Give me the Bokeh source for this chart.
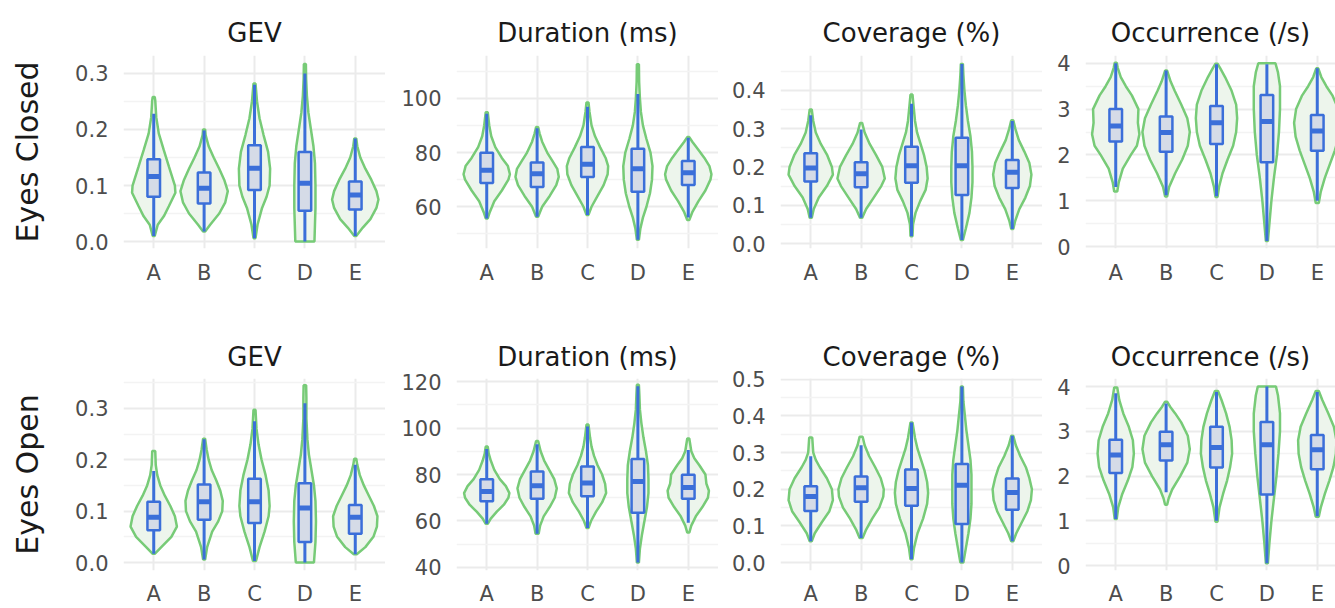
from bokeh.plotting import figure
from bokeh.layouts import column, row
from bokeh.models import Range1d, FixedTicker, PrintfTickFormatter
from bokeh.embed import file_html
from bokeh.resources import INLINE

categories = ["A", "B", "C", "D", "E"]
metrics = ["GEV", "Duration (ms)", "Coverage (%)", "Occurrence (/s)"]
conditions = ["Eyes Closed", "Eyes Open"]

# ---------------- box statistics (whisker lo, q1, median, q3, whisker hi) per category A..E
ec_gev_box = dict(lo=[0.010, 0.018, 0.006, 0.000, 0.010],
                  q1=[0.080, 0.068, 0.092, 0.055, 0.057],
                  med=[0.116, 0.095, 0.131, 0.104, 0.083],
                  q3=[0.147, 0.123, 0.172, 0.160, 0.107],
                  hi=[0.228, 0.198, 0.280, 0.300, 0.184])
ec_dur_box = dict(lo=[55.7, 56.3, 57.0, 47.8, 56.0],
                  q1=[68.8, 67.3, 71.0, 65.5, 68.0],
                  med=[73.5, 72.2, 75.7, 74.0, 72.5],
                  q3=[79.9, 76.3, 82.0, 81.4, 76.9],
                  hi=[94.3, 89.0, 96.9, 101.6, 85.5])
ec_cov_box = dict(lo=[0.067, 0.067, 0.019, 0.009, 0.038],
                  q1=[0.162, 0.147, 0.159, 0.127, 0.145],
                  med=[0.197, 0.182, 0.203, 0.203, 0.186],
                  q3=[0.236, 0.212, 0.253, 0.276, 0.218],
                  hi=[0.335, 0.298, 0.365, 0.469, 0.320])
ec_occ_box = dict(lo=[1.30, 1.12, 1.10, 0.12, 1.00],
                  q1=[2.29, 2.07, 2.24, 1.84, 2.09],
                  med=[2.63, 2.49, 2.70, 2.73, 2.52],
                  q3=[3.00, 2.84, 3.07, 3.31, 2.87],
                  hi=[4.00, 3.84, 3.98, 3.98, 3.89])
eo_gev_box = dict(lo=[0.017, 0.006, 0.003, 0.000, 0.016],
                  q1=[0.063, 0.083, 0.077, 0.040, 0.056],
                  med=[0.088, 0.118, 0.118, 0.106, 0.088],
                  q3=[0.118, 0.152, 0.163, 0.154, 0.112],
                  hi=[0.178, 0.240, 0.275, 0.310, 0.190])
eo_dur_box = dict(lo=[58.8, 54.5, 57.0, 42.1, 59.2],
                  q1=[68.5, 69.6, 70.6, 63.5, 69.6],
                  med=[72.7, 75.2, 76.3, 77.0, 74.4],
                  q3=[78.0, 81.3, 83.4, 86.7, 79.9],
                  hi=[91.0, 93.0, 100.6, 118.0, 90.5])
eo_cov_box = dict(lo=[0.058, 0.067, 0.009, 0.000, 0.058],
                  q1=[0.141, 0.166, 0.155, 0.105, 0.144],
                  med=[0.180, 0.204, 0.202, 0.211, 0.191],
                  q3=[0.208, 0.235, 0.254, 0.269, 0.229],
                  hi=[0.290, 0.320, 0.382, 0.480, 0.346])
eo_occ_box = dict(lo=[1.04, 1.64, 1.00, 0.05, 1.10],
                  q1=[2.07, 2.35, 2.19, 1.59, 2.15],
                  med=[2.47, 2.70, 2.64, 2.70, 2.59],
                  q3=[2.81, 2.99, 3.10, 3.21, 2.92],
                  hi=[3.85, 3.62, 3.88, 4.00, 3.88])

# ---------------- violin outlines: (value, half-width in category units), bottom to top
ec_gev_violin = [
    [(0.010, 0.02), (0.030, 0.08), (0.045, 0.20), (0.063, 0.30), (0.087, 0.43), (0.100, 0.42), (0.134, 0.30), (0.163, 0.20), (0.193, 0.10), (0.222, 0.05), (0.252, 0.03), (0.258, 0.02)],
    [(0.018, 0.02), (0.030, 0.12), (0.050, 0.30), (0.070, 0.42), (0.090, 0.47), (0.110, 0.40), (0.130, 0.30), (0.150, 0.19), (0.170, 0.09), (0.190, 0.03), (0.200, 0.02)],
    [(0.006, 0.02), (0.030, 0.06), (0.060, 0.15), (0.080, 0.24), (0.100, 0.30), (0.130, 0.31), (0.160, 0.27), (0.190, 0.18), (0.220, 0.10), (0.250, 0.05), (0.282, 0.02)],
    [(0.000, 0.19), (0.030, 0.20), (0.060, 0.21), (0.100, 0.21), (0.140, 0.20), (0.170, 0.17), (0.200, 0.12), (0.230, 0.07), (0.260, 0.04), (0.290, 0.025), (0.317, 0.02)],
    [(0.010, 0.02), (0.025, 0.15), (0.040, 0.30), (0.060, 0.42), (0.075, 0.46), (0.090, 0.42), (0.110, 0.32), (0.130, 0.20), (0.150, 0.10), (0.170, 0.04), (0.184, 0.02)],
]
ec_dur_violin = [
    [(55.7, 0.02), (58, 0.06), (62, 0.15), (66, 0.30), (70, 0.43), (72, 0.46), (75, 0.42), (78, 0.30), (82, 0.17), (86, 0.09), (90, 0.05), (94.9, 0.02)],
    [(56.3, 0.02), (60, 0.10), (64, 0.25), (68, 0.38), (71, 0.43), (74, 0.40), (77, 0.30), (80, 0.20), (84, 0.10), (87, 0.05), (89.4, 0.02)],
    [(57, 0.02), (60, 0.08), (64, 0.20), (68, 0.32), (72, 0.40), (75, 0.41), (78, 0.36), (82, 0.25), (86, 0.15), (90, 0.08), (95, 0.04), (98.5, 0.02)],
    [(47.8, 0.02), (52, 0.05), (56, 0.10), (60, 0.17), (65, 0.24), (70, 0.28), (75, 0.29), (80, 0.25), (85, 0.17), (90, 0.10), (95, 0.06), (100, 0.04), (106, 0.025), (112.6, 0.02)],
    [(55.1, 0.02), (58, 0.08), (62, 0.20), (66, 0.34), (70, 0.44), (72, 0.46), (75, 0.42), (78, 0.32), (81, 0.20), (84, 0.08), (85.7, 0.02)],
]
ec_cov_violin = [
    [(0.067, 0.02), (0.09, 0.06), (0.12, 0.16), (0.15, 0.32), (0.18, 0.44), (0.20, 0.42), (0.23, 0.33), (0.26, 0.20), (0.29, 0.10), (0.32, 0.05), (0.35, 0.02)],
    [(0.067, 0.02), (0.09, 0.10), (0.12, 0.25), (0.15, 0.40), (0.17, 0.47), (0.20, 0.42), (0.23, 0.30), (0.26, 0.17), (0.29, 0.07), (0.315, 0.02)],
    [(0.019, 0.02), (0.05, 0.03), (0.08, 0.08), (0.11, 0.17), (0.14, 0.28), (0.17, 0.32), (0.20, 0.30), (0.23, 0.25), (0.26, 0.18), (0.29, 0.11), (0.32, 0.07), (0.36, 0.04), (0.389, 0.02)],
    [(0.009, 0.02), (0.04, 0.08), (0.08, 0.15), (0.12, 0.19), (0.16, 0.21), (0.20, 0.21), (0.24, 0.20), (0.28, 0.17), (0.32, 0.12), (0.36, 0.08), (0.40, 0.05), (0.44, 0.03), (0.469, 0.02)],
    [(0.038, 0.02), (0.06, 0.06), (0.09, 0.14), (0.12, 0.26), (0.15, 0.35), (0.18, 0.38), (0.21, 0.34), (0.24, 0.24), (0.27, 0.13), (0.30, 0.06), (0.322, 0.02)],
]
ec_occ_violin = [
    [(1.20, 0.03), (1.4, 0.06), (1.7, 0.14), (2.0, 0.30), (2.2, 0.42), (2.45, 0.47), (2.7, 0.44), (3.0, 0.45), (3.3, 0.32), (3.5, 0.20), (3.7, 0.10), (3.9, 0.04), (4.01, 0.02)],
    [(1.09, 0.02), (1.3, 0.06), (1.6, 0.18), (1.9, 0.32), (2.2, 0.43), (2.5, 0.47), (2.8, 0.42), (3.1, 0.30), (3.4, 0.17), (3.6, 0.09), (3.84, 0.02)],
    [(1.08, 0.02), (1.3, 0.05), (1.6, 0.12), (1.9, 0.22), (2.2, 0.33), (2.5, 0.39), (2.8, 0.41), (3.1, 0.39), (3.4, 0.30), (3.7, 0.17), (3.9, 0.07), (3.99, 0.02)],
    [(0.12, 0.02), (0.5, 0.05), (1.0, 0.09), (1.5, 0.14), (2.0, 0.20), (2.5, 0.24), (3.0, 0.26), (3.5, 0.26), (3.8, 0.22), (4.0, 0.17)],
    [(0.95, 0.03), (1.2, 0.07), (1.5, 0.15), (1.8, 0.25), (2.1, 0.35), (2.4, 0.43), (2.7, 0.46), (3.0, 0.42), (3.3, 0.30), (3.5, 0.18), (3.7, 0.08), (3.89, 0.02)],
]
eo_gev_violin = [
    [(0.017, 0.02), (0.03, 0.15), (0.05, 0.35), (0.07, 0.46), (0.09, 0.42), (0.11, 0.33), (0.13, 0.22), (0.15, 0.13), (0.17, 0.07), (0.19, 0.04), (0.217, 0.03)],
    [(0.006, 0.02), (0.03, 0.06), (0.06, 0.16), (0.08, 0.28), (0.10, 0.36), (0.12, 0.37), (0.14, 0.32), (0.16, 0.24), (0.18, 0.15), (0.20, 0.09), (0.22, 0.05), (0.241, 0.02)],
    [(0.003, 0.03), (0.03, 0.10), (0.06, 0.20), (0.09, 0.28), (0.11, 0.30), (0.14, 0.28), (0.17, 0.22), (0.20, 0.14), (0.23, 0.08), (0.26, 0.04), (0.297, 0.02)],
    [(0.000, 0.18), (0.04, 0.21), (0.08, 0.22), (0.12, 0.21), (0.15, 0.18), (0.18, 0.13), (0.21, 0.08), (0.24, 0.05), (0.28, 0.03), (0.32, 0.03), (0.345, 0.025)],
    [(0.016, 0.03), (0.03, 0.20), (0.05, 0.36), (0.07, 0.43), (0.09, 0.44), (0.11, 0.37), (0.13, 0.27), (0.15, 0.17), (0.17, 0.09), (0.19, 0.04), (0.202, 0.02)],
]
eo_dur_violin = [
    [(58.8, 0.02), (61, 0.08), (64, 0.20), (67, 0.34), (70, 0.43), (72, 0.45), (75, 0.38), (78, 0.26), (82, 0.15), (86, 0.08), (89, 0.04), (92, 0.02)],
    [(54.5, 0.03), (58, 0.06), (62, 0.13), (66, 0.25), (70, 0.35), (74, 0.39), (78, 0.34), (82, 0.24), (86, 0.14), (90, 0.07), (94.4, 0.02)],
    [(57, 0.02), (60, 0.07), (64, 0.17), (68, 0.29), (72, 0.37), (76, 0.35), (80, 0.29), (84, 0.20), (88, 0.13), (92, 0.08), (96, 0.05), (101.5, 0.02)],
    [(42.1, 0.02), (48, 0.04), (54, 0.08), (60, 0.13), (66, 0.18), (72, 0.21), (78, 0.21), (84, 0.20), (90, 0.16), (96, 0.11), (102, 0.07), (108, 0.04), (114, 0.03), (118.6, 0.02)],
    [(55, 0.02), (58, 0.06), (62, 0.15), (66, 0.28), (70, 0.39), (73, 0.41), (76, 0.36), (80, 0.34), (84, 0.22), (87, 0.12), (90, 0.06), (95.5, 0.02)],
]
eo_cov_violin = [
    [(0.058, 0.02), (0.08, 0.08), (0.11, 0.22), (0.14, 0.37), (0.17, 0.44), (0.20, 0.42), (0.23, 0.32), (0.26, 0.18), (0.28, 0.10), (0.30, 0.05), (0.341, 0.03)],
    [(0.067, 0.03), (0.09, 0.10), (0.12, 0.22), (0.15, 0.36), (0.18, 0.44), (0.20, 0.45), (0.23, 0.39), (0.26, 0.28), (0.29, 0.16), (0.32, 0.07), (0.343, 0.03)],
    [(0.009, 0.02), (0.04, 0.05), (0.08, 0.12), (0.12, 0.23), (0.16, 0.31), (0.19, 0.33), (0.22, 0.31), (0.25, 0.26), (0.28, 0.19), (0.31, 0.12), (0.34, 0.07), (0.382, 0.02)],
    [(0.000, 0.03), (0.04, 0.08), (0.08, 0.13), (0.12, 0.17), (0.16, 0.19), (0.20, 0.19), (0.24, 0.19), (0.28, 0.17), (0.32, 0.13), (0.36, 0.09), (0.40, 0.06), (0.44, 0.03), (0.48, 0.02)],
    [(0.058, 0.02), (0.08, 0.08), (0.11, 0.19), (0.14, 0.30), (0.17, 0.37), (0.20, 0.39), (0.23, 0.34), (0.26, 0.27), (0.29, 0.16), (0.32, 0.07), (0.346, 0.02)],
]
eo_occ_violin = [
    [(1.04, 0.02), (1.3, 0.05), (1.6, 0.13), (1.9, 0.24), (2.2, 0.33), (2.5, 0.36), (2.8, 0.34), (3.1, 0.26), (3.4, 0.15), (3.7, 0.07), (3.98, 0.03)],
    [(1.36, 0.02), (1.5, 0.05), (1.7, 0.12), (2.0, 0.28), (2.3, 0.42), (2.6, 0.47), (2.9, 0.43), (3.2, 0.30), (3.4, 0.18), (3.55, 0.08), (3.66, 0.02)],
    [(0.98, 0.02), (1.3, 0.06), (1.6, 0.13), (1.9, 0.21), (2.2, 0.27), (2.5, 0.31), (2.8, 0.30), (3.1, 0.26), (3.4, 0.19), (3.7, 0.10), (3.9, 0.03)],
    [(0.05, 0.02), (0.5, 0.05), (1.0, 0.09), (1.5, 0.14), (2.0, 0.19), (2.5, 0.23), (3.0, 0.26), (3.4, 0.26), (3.8, 0.22), (4.0, 0.18)],
    [(1.09, 0.03), (1.3, 0.07), (1.6, 0.15), (1.9, 0.24), (2.2, 0.32), (2.5, 0.37), (2.8, 0.38), (3.1, 0.33), (3.4, 0.22), (3.7, 0.10), (3.9, 0.03)],
]

# ---------------- axis ticks
gev_ticks = [0.0, 0.1, 0.2, 0.3]
gev_minor = [0.05, 0.15, 0.25, 0.35]
ec_dur_ticks = [60, 80, 100]
eo_dur_ticks = [40, 60, 80, 100, 120]
dur_minor = [50, 70, 90, 110]
ec_cov_ticks = [0.0, 0.1, 0.2, 0.3, 0.4]
eo_cov_ticks = [0.0, 0.1, 0.2, 0.3, 0.4, 0.5]
cov_minor = [0.05, 0.15, 0.25, 0.35, 0.45]
occ_ticks = [0, 1, 2, 3, 4]
occ_minor = [0.5, 1.5, 2.5, 3.5]

panels = [
    [(ec_gev_box, ec_gev_violin, gev_ticks, gev_minor, "%.1f", (-0.0124, 0.332)),
     (ec_dur_box, ec_dur_violin, ec_dur_ticks, dur_minor, "%d", (44.6, 115.8)),
     (ec_cov_box, ec_cov_violin, ec_cov_ticks, cov_minor, "%.1f", (-0.013, 0.491)),
     (ec_occ_box, ec_occ_violin, occ_ticks, occ_minor, "%d", (-0.043, 4.17))],
    [(eo_gev_box, eo_gev_violin, gev_ticks, gev_minor, "%.1f", (-0.0155, 0.358)),
     (eo_dur_box, eo_dur_violin, eo_dur_ticks, dur_minor, "%d", (38.7, 121.3)),
     (eo_cov_box, eo_cov_violin, eo_cov_ticks, cov_minor, "%.1f", (-0.0216, 0.502)),
     (eo_occ_box, eo_occ_violin, occ_ticks, occ_minor, "%d", (-0.11, 4.18))],
]

FONT = "DejaVu Sans"
GREEN = "#77cb77"
VFILL = "#edf5ec"
BLUE = "#3b6fd9"
BFILL = "#d5dbe7"

left_borders = [123, 71, 62, 43]
frame_w = [262, 262, 262, 250]
unit_px = 262 / 5.2
row_tb = [(55, 70), (60, 37)]
x_standoff = [12, 11]
title_standoff = [16, 13]
frame_h = 193

rows = []
for r, cond in enumerate(conditions):
    figs = []
    for c, metric in enumerate(metrics):
        box, violins, ticks, minor, fmt, yr = panels[r][c]
        x_end = 0.4 + frame_w[c] / unit_px
        top_b, bot_b = row_tb[r]
        p = figure(width=left_borders[c] + frame_w[c], height=top_b + frame_h + bot_b,
                   x_range=Range1d(0.4, x_end), y_range=Range1d(*yr),
                   output_backend="svg", toolbar_location=None,
                   min_border_left=left_borders[c], min_border_right=0,
                   min_border_top=top_b, min_border_bottom=bot_b,
                   title=metric)
        p.title.align = "center"
        p.title.text_font = FONT
        p.title.text_font_size = "26px"
        p.title.text_font_style = "normal"
        p.title.text_color = "#1a1a1a"
        p.title.standoff = title_standoff[r]
        p.outline_line_color = None
        p.background_fill_color = "white"
        p.border_fill_color = "white"

        xs_all, ys_all = [], []
        for i, prof in enumerate(violins):
            cx = i + 1
            vs = [v for v, _ in prof]
            hw = [w for _, w in prof]
            xs_all.append([cx - w for w in hw] + [cx + w for w in reversed(hw)])
            ys_all.append(vs + vs[::-1])
        p.patches(xs_all, ys_all, fill_color=VFILL, line_color=GREEN, line_width=2.5)

        xc = list(range(1, len(categories) + 1))
        p.segment(x0=xc, x1=xc, y0=box["lo"], y1=box["hi"], line_color=BLUE, line_width=3)
        p.quad(left=[x - 0.125 for x in xc], right=[x + 0.125 for x in xc],
               bottom=box["q1"], top=box["q3"], fill_color=BFILL,
               line_color=BLUE, line_width=2.5)
        p.segment(x0=[x - 0.125 for x in xc], x1=[x + 0.125 for x in xc],
                  y0=box["med"], y1=box["med"], line_color=BLUE, line_width=5)

        p.xaxis.ticker = FixedTicker(ticks=xc)
        p.xaxis.major_label_overrides = {i + 1: cat for i, cat in enumerate(categories)}
        p.yaxis.ticker = FixedTicker(ticks=ticks, minor_ticks=minor)
        p.yaxis.formatter = PrintfTickFormatter(format=fmt)
        for ax in (p.xaxis, p.yaxis):
            ax.axis_line_color = None
            ax.major_tick_line_color = None
            ax.minor_tick_line_color = None
            ax.major_tick_out = 0
            ax.major_tick_in = 0
            ax.minor_tick_out = 0
            ax.minor_tick_in = 0
            ax.major_label_text_font = FONT
            ax.major_label_text_font_size = "21px"
            ax.major_label_text_color = "#4d4d4d"
        p.yaxis.major_label_standoff = 15
        p.xaxis.major_label_standoff = x_standoff[r]
        if c == 0:
            p.yaxis.axis_label = cond
            p.yaxis.axis_label_text_font = FONT
            p.yaxis.axis_label_text_font_size = "30px"
            p.yaxis.axis_label_text_font_style = "normal"
            p.yaxis.axis_label_text_color = "#1a1a1a"
            p.yaxis.axis_label_standoff = 27
        p.xgrid.grid_line_color = "#ebebeb"
        p.xgrid.grid_line_width = 2
        p.ygrid.grid_line_color = "#ebebeb"
        p.ygrid.grid_line_width = 2
        p.ygrid.minor_grid_line_color = "#f3f3f3"
        p.ygrid.minor_grid_line_width = 1.5
        figs.append(p)
    rows.append(row(*figs))

layout = column(*rows)
open("out.html", "w").write(file_html(layout, INLINE))
